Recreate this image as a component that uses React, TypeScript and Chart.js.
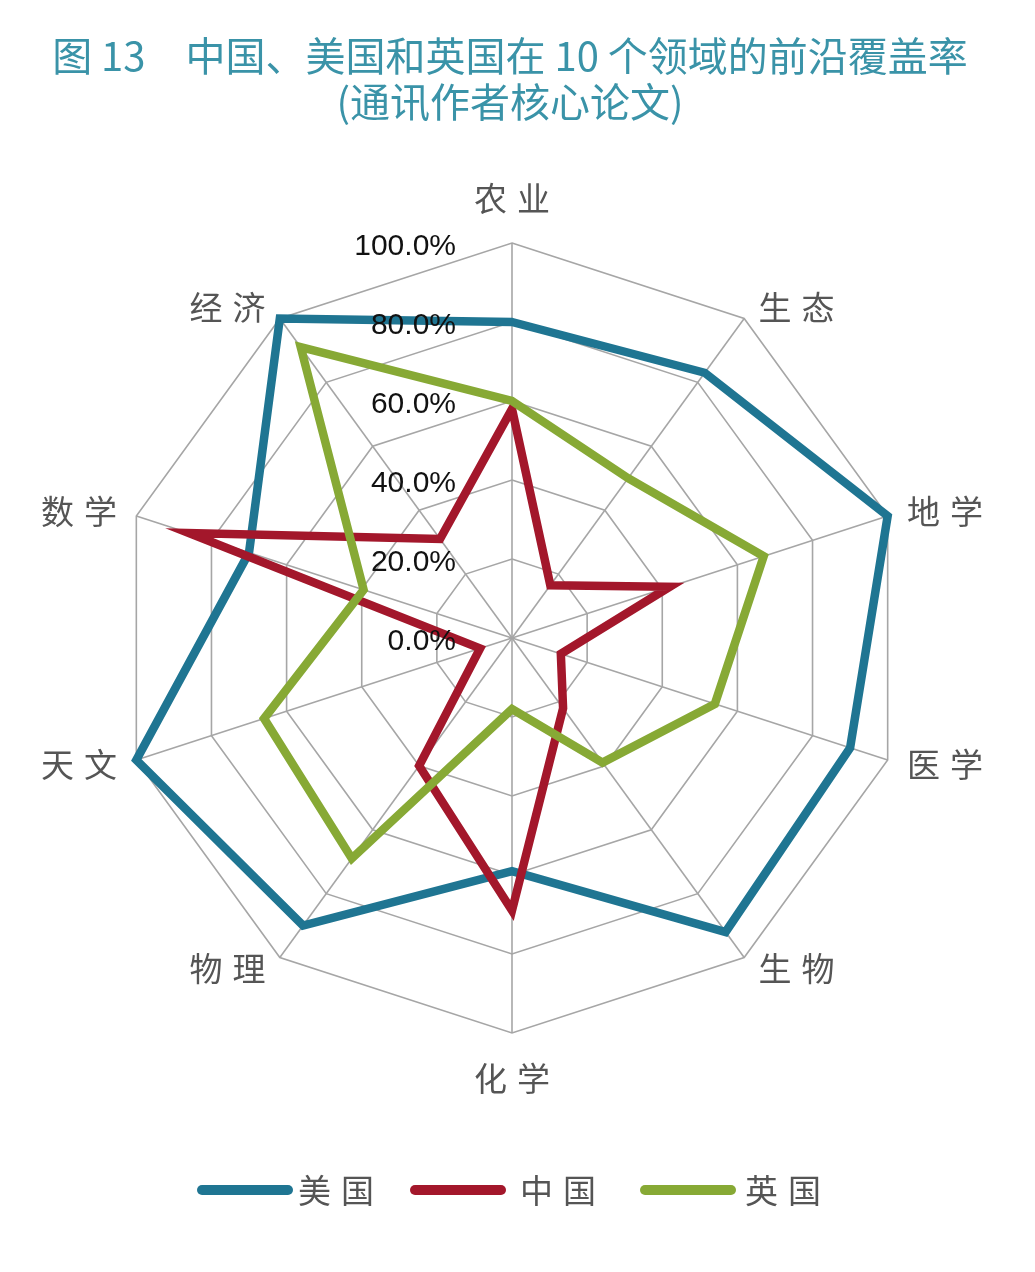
import React, { useEffect, useRef } from "react";
import { Chart, registerables } from "chart.js";

Chart.register(...registerables);

// ---- data ----
const categories = ["农业", "生态", "地学", "医学", "生物", "化学", "物理", "天文", "数学", "经济"];
const usValues = [0.80, 0.83, 1.0, 0.9, 0.92, 0.59, 0.9, 1.0, 0.7, 1.0];
const chinaValues = [0.58, 0.165, 0.42, 0.13, 0.22, 0.69, 0.4, 0.085, 0.86, 0.31];
const ukValues = [0.6, 0.5, 0.67, 0.54, 0.39, 0.18, 0.69, 0.66, 0.395, 0.91];
const tickValues = [0, 0.2, 0.4, 0.6, 0.8, 1.0];
const seriesNames = ["美国", "中国", "英国"];
const seriesColors = ["#1f7592", "#a3172b", "#87a935"];

const titleText = "图 13\u3000中国、美国和英国在 10 个领域的前沿覆盖率";
const subtitleText = "(通讯作者核心论文)";

const CJK = '"Noto Sans CJK SC", "Noto Sans", sans-serif';

function drawSpaced(ctx: CanvasRenderingContext2D, text: string, cx: number, cy: number, spacing: number) {
  const chars = Array.from(text);
  const widths = chars.map((c) => ctx.measureText(c).width);
  const total = widths.reduce((a, b) => a + b, 0) + spacing * (chars.length - 1);
  let x = cx - total / 2;
  ctx.textAlign = "left";
  chars.forEach((c, i) => {
    ctx.fillText(c, x, cy);
    x += widths[i] + spacing;
  });
  return total;
}

const overlayPlugin = {
  id: "overlayText",
  afterDatasetsDraw(chart: any) {
    const scale = chart.scales.r;
    const ctx: CanvasRenderingContext2D = chart.ctx;
    ctx.save();
    // radial tick labels
    ctx.font = '30px "Liberation Sans", Arial, sans-serif';
    ctx.fillStyle = "#111";
    ctx.textAlign = "right";
    ctx.textBaseline = "middle";
    tickValues.forEach((v) => {
      const d = scale.getDistanceFromCenterForValue(v);
      ctx.fillText((v * 100).toFixed(1) + "%", scale.xCenter - 56, scale.yCenter - d + 4);
    });
    // point labels
    ctx.font = "33px " + CJK;
    ctx.fillStyle = "#555";
    ctx.textBaseline = "middle";
    const R = scale.drawingArea;
    const h = 32;
    categories.forEach((label, i) => {
      const pos = scale.getPointPosition(i, R + 14);
      const sx = Math.cos(pos.angle);
      const cy = -Math.sin(pos.angle);
      const chars = Array.from(label);
      const w = chars.reduce((a, c) => a + ctx.measureText(c).width, 0) + 10 * (chars.length - 1);
      let x = pos.x;
      let y = pos.y;
      if (Math.abs(sx) > 0.1) {
        x += Math.sign(sx) * (w / 2 + 6);
      } else {
        y -= Math.sign(cy) * (h / 2 + 15);
      }
      drawSpaced(ctx, label, x, y, 10);
    });
    ctx.restore();
  },
};

export default function App() {
  const canvasRef = useRef<HTMLCanvasElement | null>(null);

  useEffect(() => {
    document.body.style.margin = "0";
    const canvas = canvasRef.current;
    if (!canvas) return;
    const values = [usValues, chinaValues, ukValues];
    const chart = new Chart(canvas, {
      type: "radar",
      data: {
        labels: categories,
        datasets: seriesNames.map((name, i) => ({
          label: name,
          data: values[i],
          borderColor: seriesColors[i],
          backgroundColor: "transparent",
          borderWidth: 8.5,
          pointRadius: 0,
          pointHoverRadius: 0,
          fill: false,
          tension: 0,
          borderJoinStyle: "miter" as const,
          clip: false as any,
          order: 3 - i,
        })),
      },
      options: {
        responsive: false,
        maintainAspectRatio: false,
        devicePixelRatio: 1,
        animation: false,
        layout: { padding: { left: 117, top: 243, right: 128, bottom: 239 } },
        plugins: {
          legend: { display: false },
          tooltip: { enabled: false },
          title: { display: false },
        },
        scales: {
          r: {
            min: 0,
            max: 1,
            startAngle: 0,
            ticks: { stepSize: 0.2, display: false },
            pointLabels: { display: false },
            grid: { color: "#a6a6a6", lineWidth: 1.6, circular: false },
            angleLines: { color: "#a6a6a6", lineWidth: 1.6 },
          },
        },
      },
      plugins: [overlayPlugin],
    });
    return () => chart.destroy();
  }, []);

  const legendItems = [
    { line: 197, text: 298 },
    { line: 410, text: 520 },
    { line: 640, text: 745 },
  ];

  return (
    <div style={{ position: "relative", width: 1035, height: 1272, background: "#fff", overflow: "hidden" }}>
      <canvas ref={canvasRef} width={1035} height={1272} style={{ position: "absolute", left: 0, top: 0, display: "block" }} />
      <div
        style={{
          position: "absolute",
          left: 0,
          top: 31,
          width: 1020,
          textAlign: "center",
          fontFamily: CJK,
          fontSize: 40,
          lineHeight: "46px",
          color: "#3a93a8",
          whiteSpace: "pre",
        }}
      >
        <div>{titleText}</div>
        <div>{subtitleText}</div>
      </div>
      {seriesNames.map((name, i) => (
        <React.Fragment key={name}>
          <div
            style={{
              position: "absolute",
              left: legendItems[i].line,
              top: 1185,
              width: 96,
              height: 10,
              borderRadius: 5,
              background: seriesColors[i],
            }}
          />
          <div
            style={{
              position: "absolute",
              left: legendItems[i].text,
              top: 1168,
              fontFamily: CJK,
              fontSize: 33,
              lineHeight: "42px",
              letterSpacing: "10px",
              color: "#555",
              whiteSpace: "nowrap",
            }}
          >
            {name}
          </div>
        </React.Fragment>
      ))}
    </div>
  );
}
